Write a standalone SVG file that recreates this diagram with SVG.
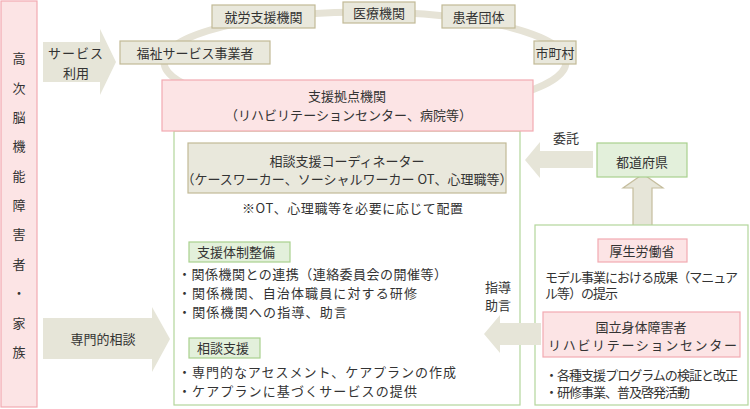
<svg xmlns="http://www.w3.org/2000/svg" width="750" height="409" viewBox="0 0 750 409">
<style>
text{font-family:"Noto Sans CJK JP","Noto Sans",sans-serif;fill:#333;font-size:13px}
.c{text-anchor:middle}
.pink{fill:#fce4e5;stroke:#f2aab1;stroke-width:1.2}
.beige{fill:#e9e8dc;stroke:#c2b996;stroke-width:1.2}
.green{fill:#e3f0db;stroke:#a9d18e;stroke-width:1.2}
.frame{fill:#fff;stroke:#b3d69b;stroke-width:1.2}
.arrow{fill:#e6e5d8;stroke:none}
.arrows{fill:#e6e5d8;stroke:#c5bd9d;stroke-width:1.2}
</style>
<rect width="750" height="409" fill="#fff"/>

<g id="ring">
<ellipse cx="365" cy="62" rx="201" ry="50" fill="none" stroke="#e6e3d6" stroke-width="7"/>
</g>

<g id="connectors">
<polygon class="arrow" points="43,42 100,42 100,29 116,62 100,95 100,82 43,82"/>
<polygon class="arrow" points="43,318 152,318 152,307 170,339 152,372 152,359 43,359"/>
<polygon class="arrow" points="593,151 540,151 540,142 525,160 540,178 540,168 593,168"/>
<polygon class="arrows" points="633,233 633,188 623,188 643,174 663,188 652,188 652,233"/>
</g>

<g id="patient">
<rect class="pink" x="1" y="1" width="36" height="406"/>
<text class="c" x="19" y="63" font-size="14">高</text>
<text class="c" x="19" y="93" font-size="14">次</text>
<text class="c" x="19" y="122" font-size="14">脳</text>
<text class="c" x="19" y="151" font-size="14">機</text>
<text class="c" x="19" y="181" font-size="14">能</text>
<text class="c" x="19" y="210" font-size="14">障</text>
<text class="c" x="19" y="239" font-size="14">害</text>
<text class="c" x="19" y="269" font-size="14">者</text>
<text class="c" x="19" y="298" font-size="14">・</text>
<text class="c" x="19" y="328" font-size="14">家</text>
<text class="c" x="19" y="357" font-size="14">族</text>
</g>

<g id="label-service">
<text class="c" x="76" y="58" font-size="14" letter-spacing="1">サービス</text>
<text class="c" x="76" y="78" font-size="14">利用</text>
</g>
<g id="label-senmon">
<text class="c" x="103" y="344" font-size="14.5">専門的相談</text>
</g>

<g id="fukushi">
<rect class="beige" x="120" y="41" width="150" height="23"/>
<text class="c" x="195" y="58" font-size="14.4">福祉サービス事業者</text>
</g>
<g id="shuro">
<rect class="beige" x="212" y="5" width="103" height="23"/>
<text class="c" x="263.5" y="22" font-size="14.4">就労支援機関</text>
</g>
<g id="iryo">
<rect class="beige" x="343" y="2" width="72" height="21"/>
<text class="c" x="379" y="18" font-size="14.4">医療機関</text>
</g>
<g id="kanja">
<rect class="beige" x="442" y="5" width="73" height="23"/>
<text class="c" x="478.5" y="22" font-size="14.4">患者団体</text>
</g>
<g id="shichoson">
<rect class="beige" x="534" y="41" width="42" height="23"/>
<text class="c" x="555" y="58" font-size="14">市町村</text>
</g>

<g id="kyoten">
<rect class="frame" x="174" y="131" width="346" height="274"/>
<rect class="pink" x="162" y="80" width="371" height="51"/>
<text class="c" x="347" y="101" font-size="14.2">支援拠点機関</text>
<text x="225" y="120" font-size="13" textLength="247" lengthAdjust="spacing">（リハビリテーションセンター、病院等）</text>
</g>

<g id="coordinator">
<rect class="beige" x="188" y="143" width="318" height="50"/>
<text class="c" x="347" y="166" font-size="14.6">相談支援コーディネーター</text>
<text class="c" x="347" y="184" font-size="12.2">（ケースワーカー、ソーシャルワーカー OT、心理職等）</text>
<text x="242" y="213" font-size="13.2" textLength="221" lengthAdjust="spacing">※OT、心理職等を必要に応じて配置</text>
</g>

<g id="taisei">
<rect class="green" x="189" y="242" width="101" height="20"/>
<text x="197" y="257" font-size="14.3">支援体制整備</text>
<text x="178" y="279" font-size="13.4" textLength="269" lengthAdjust="spacing">・関係機関との連携（連絡委員会の開催等）</text>
<text x="178" y="298" font-size="13.4" textLength="239" lengthAdjust="spacing">・関係機関、自治体職員に対する研修</text>
<text x="178" y="317" font-size="13.4" textLength="169" lengthAdjust="spacing">・関係機関への指導、助言</text>
</g>

<g id="sodan">
<rect class="green" x="189" y="338" width="71" height="20"/>
<text x="197" y="353" font-size="14.3">相談支援</text>
<text x="178" y="377" font-size="13.4" textLength="278" lengthAdjust="spacing">・専門的なアセスメント、ケアプランの作成</text>
<text x="178" y="396" font-size="13.4" textLength="239" lengthAdjust="spacing">・ケアプランに基づくサービスの提供</text>
</g>

<g id="todofuken">
<rect class="green" x="597" y="143" width="90" height="34"/>
<text class="c" x="642" y="167" font-size="14.5">都道府県</text>
<text class="c" x="566" y="143" font-size="14">委託</text>
</g>

<g id="kokuritsu-frame">
<rect class="frame" x="535" y="225" width="213" height="180"/>
</g>

<g id="kosei">
<rect class="pink" x="598" y="239" width="89" height="23"/>
<text class="c" x="642" y="256" font-size="14.2">厚生労働省</text>
<text x="545" y="282" font-size="12" textLength="193" lengthAdjust="spacing">モデル事業における成果（マニュア</text>
<text x="545" y="298" font-size="12" textLength="73" lengthAdjust="spacing">ル等）の提示</text>
</g>

<g id="shido-arrow">
<polygon class="arrow" points="541,323 500,323 500,315 484,334 500,353 500,345 541,345"/>
<text class="c" x="498" y="292" font-size="14">指導</text>
<text class="c" x="498" y="310" font-size="14">助言</text>
</g>

<g id="kokuritsu">
<rect class="pink" x="543" y="312" width="197" height="45"/>
<text class="c" x="641" y="332" font-size="14.5">国立身体障害者</text>
<text x="548" y="350" font-size="14.5" textLength="189" lengthAdjust="spacing">リハビリテーションセンター</text>
<text x="545" y="380" font-size="12" textLength="193" lengthAdjust="spacing">・各種支援プログラムの検証と改正</text>
<text x="545" y="397" font-size="12" textLength="145" lengthAdjust="spacing">・研修事業、普及啓発活動</text>
</g>
</svg>
